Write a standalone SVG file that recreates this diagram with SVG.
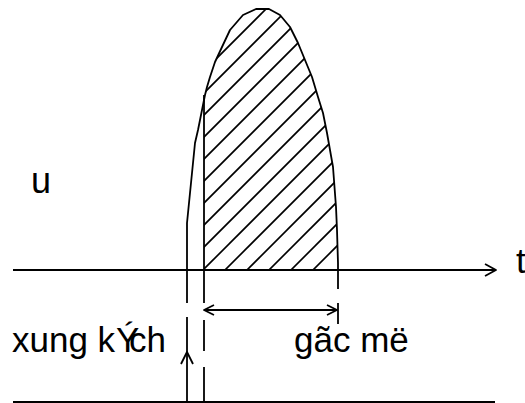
<svg xmlns="http://www.w3.org/2000/svg" width="525" height="403" viewBox="0 0 525 403">
<style>
.ln{fill:none;stroke:#000;stroke-width:1.8;stroke-linecap:butt;stroke-linejoin:round}
.h{stroke:#000;stroke-width:1.7}
.tx{font-family:"Liberation Sans",Arial,sans-serif;font-size:35px;fill:#000}
</style>
<defs>
<clipPath id="hc">
<path d="M204,270 L204,95 L205,95 L207,87 L210,77 L215,62 L222,47 L230,30 L243,15 L256,9 L269,9 L280,15 L290,27 L298,43 L305,60 L312,77 L318,97 L323,113 L327,133 L330,150 L333,167 L334.5,187 L336,207 L337,230 L338,263 L338,270 Z"/>
</clipPath>
</defs>
<rect width="525" height="403" fill="#fff"/>
<g id="hatch" clip-path="url(#hc)">
<line class="h" x1="-25" y1="300" x2="275" y2="0"/>
<line class="h" x1="-3" y1="300" x2="297" y2="0"/>
<line class="h" x1="19" y1="300" x2="319" y2="0"/>
<line class="h" x1="41" y1="300" x2="341" y2="0"/>
<line class="h" x1="63" y1="300" x2="363" y2="0"/>
<line class="h" x1="85" y1="300" x2="385" y2="0"/>
<line class="h" x1="107" y1="300" x2="407" y2="0"/>
<line class="h" x1="129" y1="300" x2="429" y2="0"/>
<line class="h" x1="151" y1="300" x2="451" y2="0"/>
<line class="h" x1="173" y1="300" x2="473" y2="0"/>
<line class="h" x1="195" y1="300" x2="495" y2="0"/>
<line class="h" x1="217" y1="300" x2="517" y2="0"/>
<line class="h" x1="239" y1="300" x2="539" y2="0"/>
<line class="h" x1="261" y1="300" x2="561" y2="0"/>
<line class="h" x1="283" y1="300" x2="583" y2="0"/>
</g>
<g id="pulse">
<path class="ln" d="M187,303 L187,223 L195,143 L198,130 L205,95 L207,87 L210,77 L215,62 L222,47 L230,30 L243,15 L256,9 L269,9 L280,15 L290,27 L298,43 L305,60 L312,77 L318,97 L323,113 L327,133 L330,150 L333,167 L334.5,187 L336,207 L337,230 L338,263 L338,289"/>
<line class="ln" x1="204" y1="95" x2="204" y2="303"/>
</g>
<g id="axes">
<line class="ln" x1="13" y1="270" x2="496" y2="270"/>
<line class="ln" x1="13" y1="402" x2="495" y2="402"/>
</g>
<g id="markers">
<line class="ln" x1="187" y1="317" x2="187" y2="403"/>
<line class="ln" x1="204" y1="320" x2="204" y2="351"/>
<line class="ln" x1="204" y1="367" x2="204" y2="403"/>
<line class="ln" x1="338" y1="303" x2="338" y2="324"/>
</g>
<g id="connectors">
<polyline class="ln" points="485,264 496,270 485,276"/>
<polyline class="ln" points="181,364 187,352 193,364"/>
<line class="ln" x1="204" y1="310" x2="337" y2="310"/>
<polyline class="ln" points="214,305 204,310 214,315"/>
<polyline class="ln" points="327,305 337,310 327,315"/>
</g>
<g id="labels">
<text class="tx" x="31" y="193" style="font-size:36px">u</text>
<text class="tx" x="516" y="273">t</text>
<text class="tx" y="352"><tspan x="12">xung k</tspan><tspan x="116">Ý</tspan><tspan x="129">ch</tspan></text>
<text class="tx" x="294" y="352">gãc më</text>
</g>
</svg>
